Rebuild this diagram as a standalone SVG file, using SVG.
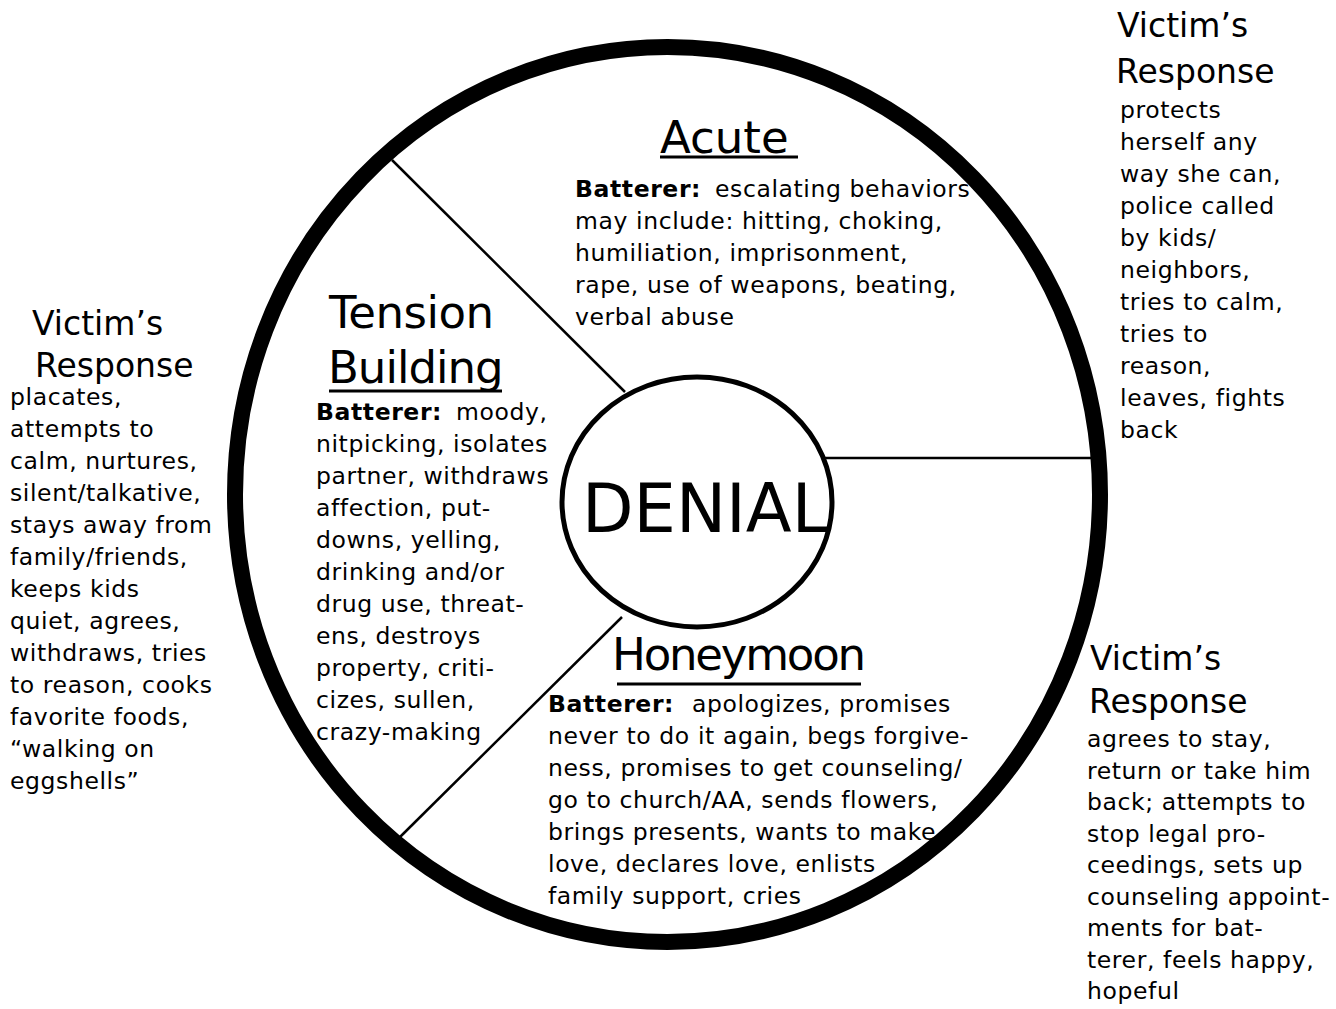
<svg xmlns="http://www.w3.org/2000/svg" width="1336" height="1009" viewBox="0 0 1336 1009">
<style>
text{font-family:"DejaVu Sans","Liberation Sans",sans-serif;fill:#000}
.b{font-size:23.5px;letter-spacing:0.6px}
.bb{font-weight:bold}
.h{font-size:45px}
.v{font-size:33px}
.u{stroke:#000;stroke-width:3}
.seg{stroke:#000;stroke-width:2.5;fill:none}
</style>
<rect width="1336" height="1009" fill="#fff"/>
<g id="wheel">
<ellipse cx="667.5" cy="494.5" rx="432.5" ry="447.5" fill="none" stroke="#000" stroke-width="16"/>
</g>
<g id="connectors">
<line class="seg" x1="392" y1="160" x2="625" y2="392"/>
<line class="seg" x1="825" y1="458" x2="1092" y2="458"/>
<line class="seg" x1="400" y1="837" x2="622" y2="617"/>
</g>
<g id="denial">
<ellipse cx="697" cy="502" rx="135" ry="125" fill="none" stroke="#000" stroke-width="5"/>
<text x="582" y="532" font-size="67">DENIAL</text>
</g>
<g id="acute">
<text class="h" x="660" y="153">Acute</text>
<line class="u" x1="660" y1="157" x2="798" y2="157"/>
<text class="b"><tspan x="575" y="197" class="bb">Batterer:</tspan><tspan x="715" y="197">escalating behaviors</tspan><tspan x="575" y="229">may include: hitting, choking,</tspan><tspan x="575" y="261">humiliation, imprisonment,</tspan><tspan x="575" y="293">rape, use of weapons, beating,</tspan><tspan x="575" y="325">verbal abuse</tspan></text>
</g>
<g id="tension-building">
<text class="h" x="329" y="328" letter-spacing="-0.5">Tension</text>
<text class="h" x="328" y="383" letter-spacing="-1">Building</text>
<line class="u" x1="329" y1="391" x2="502" y2="391"/>
<text class="b"><tspan x="316" y="420" class="bb">Batterer:</tspan><tspan x="456" y="420">moody,</tspan><tspan x="316" y="452">nitpicking, isolates</tspan><tspan x="316" y="484">partner, withdraws</tspan><tspan x="316" y="516">affection, put-</tspan><tspan x="316" y="548">downs, yelling,</tspan><tspan x="316" y="580">drinking and/or</tspan><tspan x="316" y="612">drug use, threat-</tspan><tspan x="316" y="644">ens, destroys</tspan><tspan x="316" y="676">property, criti-</tspan><tspan x="316" y="708">cizes, sullen,</tspan><tspan x="316" y="740">crazy-making</tspan></text>
</g>
<g id="honeymoon">
<text class="h" x="612" y="670" letter-spacing="-2.2">Honeymoon</text>
<line class="u" x1="617" y1="684" x2="861" y2="684"/>
<text class="b"><tspan x="548" y="712" class="bb">Batterer:</tspan><tspan x="692" y="712">apologizes, promises</tspan><tspan x="548" y="744">never to do it again, begs forgive-</tspan><tspan x="548" y="776">ness, promises to get counseling/</tspan><tspan x="548" y="808">go to church/AA, sends flowers,</tspan><tspan x="548" y="840">brings presents, wants to make</tspan><tspan x="548" y="872">love, declares love, enlists</tspan><tspan x="548" y="904">family support, cries</tspan></text>
</g>
<g id="victim-response-acute">
<text class="v"><tspan x="1117" y="37">Victim’s</tspan><tspan x="1116" y="83">Response</tspan></text>
<text class="b"><tspan x="1120" y="118">protects</tspan><tspan x="1120" y="150">herself any</tspan><tspan x="1120" y="182">way she can,</tspan><tspan x="1120" y="214">police called</tspan><tspan x="1120" y="246">by kids/</tspan><tspan x="1120" y="278">neighbors,</tspan><tspan x="1120" y="310">tries to calm,</tspan><tspan x="1120" y="342">tries to</tspan><tspan x="1120" y="374">reason,</tspan><tspan x="1120" y="406">leaves, fights</tspan><tspan x="1120" y="438">back</tspan></text>
</g>
<g id="victim-response-tension">
<text class="v"><tspan x="32" y="335">Victim’s</tspan><tspan x="35" y="377">Response</tspan></text>
<text class="b"><tspan x="10" y="405">placates,</tspan><tspan x="10" y="437">attempts to</tspan><tspan x="10" y="469">calm, nurtures,</tspan><tspan x="10" y="501">silent/talkative,</tspan><tspan x="10" y="533">stays away from</tspan><tspan x="10" y="565">family/friends,</tspan><tspan x="10" y="597">keeps kids</tspan><tspan x="10" y="629">quiet, agrees,</tspan><tspan x="10" y="661">withdraws, tries</tspan><tspan x="10" y="693">to reason, cooks</tspan><tspan x="10" y="725">favorite foods,</tspan><tspan x="10" y="757">“walking on</tspan><tspan x="10" y="789">eggshells”</tspan></text>
</g>
<g id="victim-response-honeymoon">
<text class="v"><tspan x="1090" y="670">Victim’s</tspan><tspan x="1089" y="713">Response</tspan></text>
<text class="b"><tspan x="1087" y="747">agrees to stay,</tspan><tspan x="1087" y="778.5">return or take him</tspan><tspan x="1087" y="810">back; attempts to</tspan><tspan x="1087" y="841.5">stop legal pro-</tspan><tspan x="1087" y="873">ceedings, sets up</tspan><tspan x="1087" y="904.5">counseling appoint-</tspan><tspan x="1087" y="936">ments for bat-</tspan><tspan x="1087" y="967.5">terer, feels happy,</tspan><tspan x="1087" y="999">hopeful</tspan></text>
</g>
</svg>
